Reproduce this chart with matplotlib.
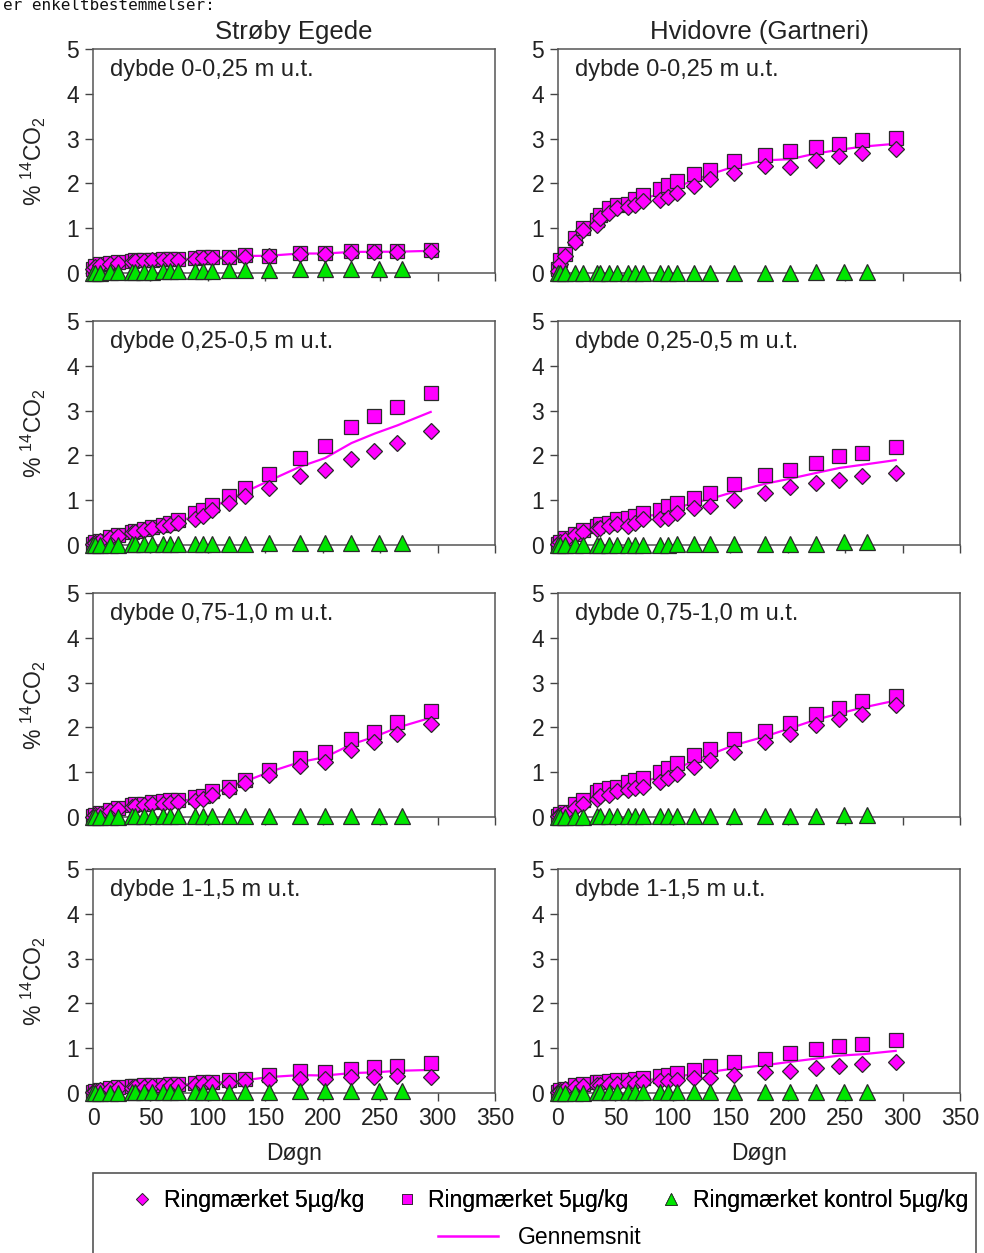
import numpy as np
import matplotlib
matplotlib.use("Agg")
import matplotlib.pyplot as plt
from matplotlib.patches import Rectangle
from matplotlib.lines import Line2D

plt.rcParams['font.family'] = ['Liberation Sans', 'DejaVu Sans']
plt.rcParams['mathtext.fontset'] = 'custom'
plt.rcParams['mathtext.rm'] = 'Liberation Sans'

# sampling days (incubation time, døgn)
DAYS = [0, 2, 6, 15, 22, 34, 37, 44, 51, 61, 67, 74, 89, 96, 104, 118,
        132, 153, 180, 202, 225, 245, 265, 294]
CTRL_DAYS = [0, 2, 6, 15, 22, 34, 37, 44, 51, 61, 67, 74, 89, 96, 104, 118,
             132, 153, 180, 202, 225, 249, 269]

SITES = ['Strøby Egede', 'Hvidovre (Gartneri)']
DEPTHS = ['dybde 0-0,25 m u.t.', 'dybde 0,25-0,5 m u.t.',
          'dybde 0,75-1,0 m u.t.', 'dybde 1-1,5 m u.t.']

# Strøby Egede
SE1_A = [0.08, 0.13, 0.17, 0.2, 0.22, 0.25, 0.26, 0.27, 0.28, 0.29, 0.3, 0.3,
         0.31, 0.33, 0.34, 0.34, 0.36, 0.38, 0.42, 0.42, 0.45, 0.46, 0.46, 0.48]
SE1_B = [0.1, 0.15, 0.19, 0.22, 0.24, 0.27, 0.28, 0.29, 0.3, 0.31, 0.32, 0.32,
         0.33, 0.35, 0.36, 0.36, 0.4, 0.39, 0.45, 0.45, 0.49, 0.49, 0.49, 0.51]
SE1_C = [0.0, 0.01, 0.01, 0.02, 0.02, 0.03, 0.03, 0.03, 0.03, 0.04, 0.04, 0.04,
         0.05, 0.05, 0.05, 0.06, 0.07, 0.06, 0.1, 0.1, 0.1, 0.09, 0.09]

SE2_A = [0.02, 0.05, 0.08, 0.15, 0.2, 0.27, 0.28, 0.33, 0.37, 0.42, 0.45, 0.5,
         0.57, 0.64, 0.79, 0.94, 1.09, 1.27, 1.55, 1.68, 1.92, 2.1, 2.27, 2.55]
SE2_B = [0.03, 0.06, 0.1, 0.18, 0.22, 0.3, 0.32, 0.36, 0.4, 0.45, 0.5, 0.55,
         0.72, 0.79, 0.9, 1.09, 1.27, 1.59, 1.94, 2.2, 2.63, 2.87, 3.07, 3.39]
SE2_C = [0.0, 0.0, 0.01, 0.01, 0.01, 0.02, 0.02, 0.02, 0.02, 0.02, 0.02, 0.02,
         0.03, 0.03, 0.03, 0.03, 0.03, 0.04, 0.04, 0.04, 0.04, 0.05, 0.05]

SE3_A = [0.01, 0.04, 0.07, 0.13, 0.17, 0.23, 0.25, 0.27, 0.29, 0.3, 0.32, 0.33,
         0.36, 0.4, 0.49, 0.61, 0.75, 0.94, 1.14, 1.23, 1.49, 1.68, 1.86, 2.07]
SE3_B = [0.02, 0.05, 0.08, 0.15, 0.2, 0.26, 0.28, 0.3, 0.33, 0.35, 0.37, 0.38,
         0.44, 0.46, 0.57, 0.68, 0.83, 1.06, 1.31, 1.44, 1.75, 1.9, 2.13, 2.36]
SE3_C = [0.0, 0.0, 0.01, 0.01, 0.01, 0.02, 0.02, 0.02, 0.02, 0.02, 0.02, 0.02,
         0.02, 0.02, 0.03, 0.03, 0.03, 0.03, 0.03, 0.03, 0.03, 0.03, 0.03]

SE4_A = [0.02, 0.04, 0.06, 0.1, 0.11, 0.12, 0.13, 0.14, 0.15, 0.15, 0.16, 0.17,
         0.18, 0.2, 0.2, 0.22, 0.26, 0.3, 0.31, 0.31, 0.35, 0.35, 0.38, 0.36]
SE4_B = [0.02, 0.05, 0.07, 0.11, 0.13, 0.15, 0.16, 0.17, 0.18, 0.18, 0.19, 0.2,
         0.22, 0.24, 0.25, 0.28, 0.31, 0.41, 0.49, 0.47, 0.54, 0.57, 0.61, 0.67]
SE4_C = [0.0, 0.0, 0.01, 0.01, 0.01, 0.02, 0.02, 0.02, 0.02, 0.02, 0.02, 0.02,
         0.03, 0.03, 0.03, 0.03, 0.03, 0.03, 0.04, 0.04, 0.04, 0.04, 0.04]

# Hvidovre (Gartneri)
HV1_A = [0.05, 0.2, 0.37, 0.7, 0.96, 1.07, 1.22, 1.34, 1.45, 1.47, 1.52, 1.6,
         1.62, 1.7, 1.79, 1.94, 2.09, 2.24, 2.39, 2.36, 2.53, 2.62, 2.68, 2.76]
HV1_B = [0.08, 0.28, 0.42, 0.78, 1.0, 1.19, 1.3, 1.45, 1.52, 1.55, 1.65, 1.75,
         1.88, 1.97, 2.05, 2.2, 2.31, 2.5, 2.64, 2.72, 2.81, 2.88, 2.96, 3.01]
HV1_C = [0.0, 0.0, 0.01, 0.01, 0.01, 0.01, 0.01, 0.01, 0.01, 0.01, 0.01, 0.01,
         0.01, 0.01, 0.01, 0.01, 0.01, 0.01, 0.01, 0.01, 0.03, 0.03, 0.03]

HV2_A = [0.02, 0.06, 0.12, 0.22, 0.3, 0.35, 0.38, 0.42, 0.46, 0.42, 0.5, 0.57,
         0.57, 0.61, 0.72, 0.83, 0.88, 1.01, 1.16, 1.29, 1.39, 1.46, 1.53, 1.61]
HV2_B = [0.03, 0.07, 0.15, 0.25, 0.33, 0.43, 0.47, 0.5, 0.57, 0.61, 0.64, 0.72,
         0.79, 0.87, 0.94, 1.05, 1.17, 1.36, 1.57, 1.67, 1.83, 1.98, 2.05, 2.18]
HV2_C = [0.0, 0.0, 0.0, 0.01, 0.01, 0.01, 0.01, 0.01, 0.01, 0.01, 0.01, 0.01,
         0.01, 0.01, 0.02, 0.02, 0.02, 0.02, 0.02, 0.02, 0.03, 0.06, 0.06]

HV3_A = [0.02, 0.05, 0.1, 0.2, 0.3, 0.4, 0.46, 0.49, 0.57, 0.61, 0.64, 0.68,
         0.79, 0.86, 0.97, 1.12, 1.27, 1.45, 1.68, 1.86, 2.05, 2.19, 2.3, 2.49]
HV3_B = [0.03, 0.06, 0.12, 0.28, 0.38, 0.55, 0.6, 0.64, 0.68, 0.79, 0.83, 0.88,
         1.01, 1.09, 1.2, 1.38, 1.51, 1.75, 1.91, 2.1, 2.3, 2.43, 2.58, 2.71]
HV3_C = [0.0, 0.0, 0.01, 0.01, 0.01, 0.02, 0.02, 0.02, 0.02, 0.02, 0.02, 0.02,
         0.02, 0.03, 0.03, 0.03, 0.03, 0.03, 0.03, 0.03, 0.03, 0.04, 0.04]

HV4_A = [0.02, 0.05, 0.08, 0.13, 0.15, 0.17, 0.18, 0.2, 0.21, 0.22, 0.23, 0.24,
         0.26, 0.27, 0.29, 0.34, 0.33, 0.4, 0.47, 0.49, 0.55, 0.61, 0.64, 0.69]
HV4_B = [0.03, 0.06, 0.1, 0.17, 0.2, 0.24, 0.25, 0.27, 0.29, 0.3, 0.32, 0.33,
         0.37, 0.4, 0.44, 0.51, 0.61, 0.69, 0.77, 0.9, 0.99, 1.06, 1.09, 1.19]
HV4_C = [0.0, 0.0, 0.01, 0.01, 0.01, 0.02, 0.02, 0.02, 0.02, 0.02, 0.02, 0.02,
         0.03, 0.03, 0.03, 0.03, 0.03, 0.03, 0.03, 0.03, 0.03, 0.03, 0.03]

PANELS = [
    [(SE1_A, SE1_B, SE1_C), (HV1_A, HV1_B, HV1_C)],
    [(SE2_A, SE2_B, SE2_C), (HV2_A, HV2_B, HV2_C)],
    [(SE3_A, SE3_B, SE3_C), (HV3_A, HV3_B, HV3_C)],
    [(SE4_A, SE4_B, SE4_C), (HV4_A, HV4_B, HV4_C)],
]

MAGENTA = '#ff00ff'
GREEN = '#00e600'
EDGE = '#2a2a2a'
TXT = '#222222'
FS = 16.5

W, H = 984, 1253
fig = plt.figure(figsize=(W / 100, H / 100), dpi=100)

col_left = [93, 558]
col_width = 402
row_top = [49, 321, 593, 869]
row_height = 224

for r in range(4):
    for c in range(2):
        ax = fig.add_axes([col_left[c] / W, 1 - (row_top[r] + row_height) / H,
                           col_width / W, row_height / H])
        rep_a, rep_b, ctrl = PANELS[r][c]
        mean = (np.array(rep_a) + np.array(rep_b)) / 2

        ax.plot(DAYS, mean, color=MAGENTA, lw=1.6, zorder=2, clip_on=False)
        ax.plot(DAYS, rep_b, 's', ms=10.5, mfc=MAGENTA, mec=EDGE, mew=0.9,
                zorder=3, clip_on=False)
        ax.plot(DAYS, rep_a, 'D', ms=8.3, mfc=MAGENTA, mec=EDGE, mew=0.9,
                zorder=4, clip_on=False)
        ax.plot(CTRL_DAYS, ctrl, '^', ms=11, mfc=GREEN, mec=EDGE, mew=0.9,
                zorder=5, clip_on=False)

        ax.set_xlim(0, 350)
        ax.set_ylim(0, 5)
        ax.set_xticks(range(0, 351, 50))
        ax.set_yticks(range(0, 6))
        ax.tick_params(direction='out', length=6, width=1, color='#444444',
                       labelsize=FS, labelcolor=TXT, pad=4)
        for s in ax.spines.values():
            s.set_color('#555555')
            s.set_linewidth(1.1)
        if r < 3:
            ax.set_xticklabels([])
        else:
            ax.set_xlabel('Døgn', fontsize=FS, color=TXT, labelpad=9)
        if c == 0:
            ax.set_ylabel(r'% $^{14}$CO$_{2}$', fontsize=FS, color=TXT,
                          labelpad=13)
        ax.text(0.042, 0.905, DEPTHS[r], transform=ax.transAxes,
                fontsize=FS + 0.5, color=TXT, va='center', ha='left')
        if r == 0:
            ax.set_title(SITES[c], fontsize=18.5, color=TXT, pad=7)

# caption line at the top edge
fig.text(0.003, 1 - 10 / H, 'er enkeltbestemmelser:', fontsize=11.5,
         family='DejaVu Sans Mono', color='#111111', va='baseline', ha='left')

# legend box
fig.patches.append(Rectangle((93 / W, -0.01), (976 - 93) / W,
                             (H - 1173) / H + 0.01, transform=fig.transFigure,
                             fill=False, edgecolor='#555555', lw=1.2))

handles_top = [
    Line2D([], [], ls='none', marker='D', ms=6.5, mfc=MAGENTA, mec=EDGE, mew=0.6),
    Line2D([], [], ls='none', marker='s', ms=7.5, mfc=MAGENTA, mec=EDGE, mew=0.6),
    Line2D([], [], ls='none', marker='^', ms=8.5, mfc=GREEN, mec=EDGE, mew=0.6),
]
labels_top = ['Ringmærket 5µg/kg', 'Ringmærket 5µg/kg',
              'Ringmærket kontrol 5µg/kg']
leg1 = fig.legend(handles_top, labels_top, loc='center',
                  bbox_to_anchor=(550 / W, 1 - 1201 / H), ncol=3,
                  frameon=False, fontsize=FS, handlelength=0.9,
                  handletextpad=0.5, columnspacing=1.4)
fig.add_artist(leg1)
fig.legend([Line2D([], [], color=MAGENTA, lw=1.8)], ['Gennemsnit'],
           loc='center', bbox_to_anchor=(540 / W, 1 - 1238 / H),
           frameon=False, fontsize=FS, handlelength=2.6,
           handletextpad=0.9)

fig.savefig('out.png', dpi=100)
